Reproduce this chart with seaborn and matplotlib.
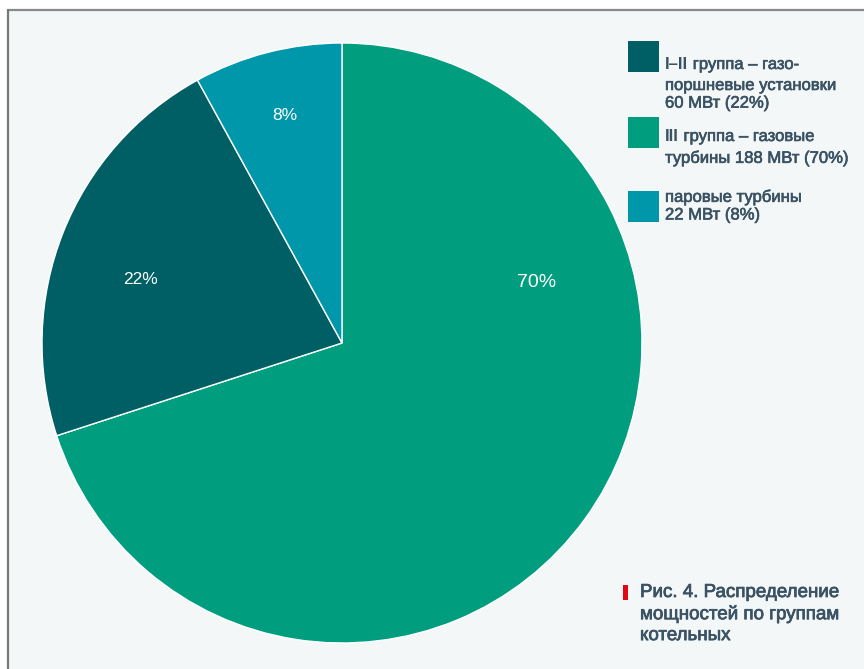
import matplotlib
matplotlib.use("Agg")
import matplotlib.pyplot as plt
from matplotlib.patches import Rectangle
from matplotlib.lines import Line2D
from matplotlib.text import Annotation
import matplotlib.patheffects as pe
import seaborn as sns

# Boiler capacity by group
groups = ["III группа – газовые турбины", "I–II группа – газопоршневые установки", "паровые турбины"]
shares = [70, 22, 8]
power_mw = [188, 60, 22]
colors = ["#009e7f", "#005f64", "#0097ab"]

legend_bold = ["I–II", "III", ""]
legend_rest = [
    " группа – газо-\nпоршневые установки\n60 МВт (22%)",
    " группа – газовые\nтурбины 188 МВт (70%)",
    "паровые турбины\n22 МВт (8%)",
]
legend_colors = [colors[1], colors[0], colors[2]]
caption = "Рис. 4. Распределение\nмощностей по группам\nкотельных"

sns.set_theme(style="white")
font = ["Liberation Sans", "DejaVu Sans"]
plt.rcParams["font.family"] = font
text_color = "#3a5263"
# slightly heavier strokes for the medium-weight text
medium = [pe.withStroke(linewidth=0.45, foreground=text_color)]

W, H = 864, 669
fig = plt.figure(figsize=(W / 100, H / 100), dpi=100, facecolor="white")

# panel background and frame
fig.patches.append(Rectangle((8 / W, 0), 1, (H - 10) / H, transform=fig.transFigure,
                             facecolor="#f4f7f8", edgecolor="none", zorder=-5))
fig.add_artist(Line2D([8 / W, 1], [(H - 10) / H] * 2, color="#888888", lw=1.6, zorder=-4))
fig.add_artist(Line2D([8 / W] * 2, [0, (H - 10) / H], color="#777777", lw=1.6, zorder=-4))

ax = fig.add_axes([42 / W, 26 / H, 600 / W, 600 / H])
ax.set_facecolor("none")
wedges, _ = ax.pie(shares, colors=colors, startangle=90, counterclock=False, radius=1,
                   wedgeprops=dict(edgecolor="white", linewidth=1.0))
ax.set_xlim(-1, 1)
ax.set_ylim(-1, 1)
ax.set_aspect("equal")
ax.axis("off")

# percentage labels inside slices
label_pos = [(0.65, 0.20), (-0.67, 0.21), (-0.19, 0.757)]
label_size = [14, 12.5, 12.5]
for s, (x, y), fs in zip(shares, label_pos, label_size):
    ax.text(x, y, f"{s}%", color="white", fontsize=fs, ha="center", va="center")

# legend
fs_leg = 12
box_tops = [41, 117, 191]
text_tops = [57, 129, 189]
for bold, rest, c, bt, tt in zip(legend_bold, legend_rest, legend_colors, box_tops, text_tops):
    fig.patches.append(Rectangle((628 / W, 1 - (bt + 31) / H), 31 / W, 31 / H,
                                 transform=fig.transFigure, facecolor=c, edgecolor="none"))
    lines = rest.split("\n")
    y0 = 1 - tt / H
    if bold:
        t = fig.text(665 / W, y0, bold, fontsize=fs_leg, fontweight="bold", color=text_color,
                     va="top", ha="left")
        fig.add_artist(Annotation(lines[0], xy=(1, 0), xycoords=t, va="bottom", ha="left",
                                  fontsize=fs_leg, color=text_color, path_effects=medium))
        rem = "\n".join(lines[1:])
        fig.text(665 / W, y0 - 21 / H, rem, fontsize=fs_leg, color=text_color, va="top",
                 ha="left", linespacing=1.22, path_effects=medium)
    else:
        fig.text(665 / W, y0, rest, fontsize=fs_leg, color=text_color, va="top", ha="left",
                 linespacing=1.22, path_effects=medium)

# caption with red marker
fig.patches.append(Rectangle((623 / W, 1 - 600 / H), 5 / W, 15 / H, transform=fig.transFigure,
                             facecolor="#e30613", edgecolor="none"))
fig.text(640 / W, 1 - 584 / H, caption, fontsize=13.5, color=text_color, va="top", ha="left",
         linespacing=1.3, path_effects=[pe.withStroke(linewidth=0.55, foreground=text_color)])

fig.savefig("out.png", dpi=100, facecolor=fig.get_facecolor())
